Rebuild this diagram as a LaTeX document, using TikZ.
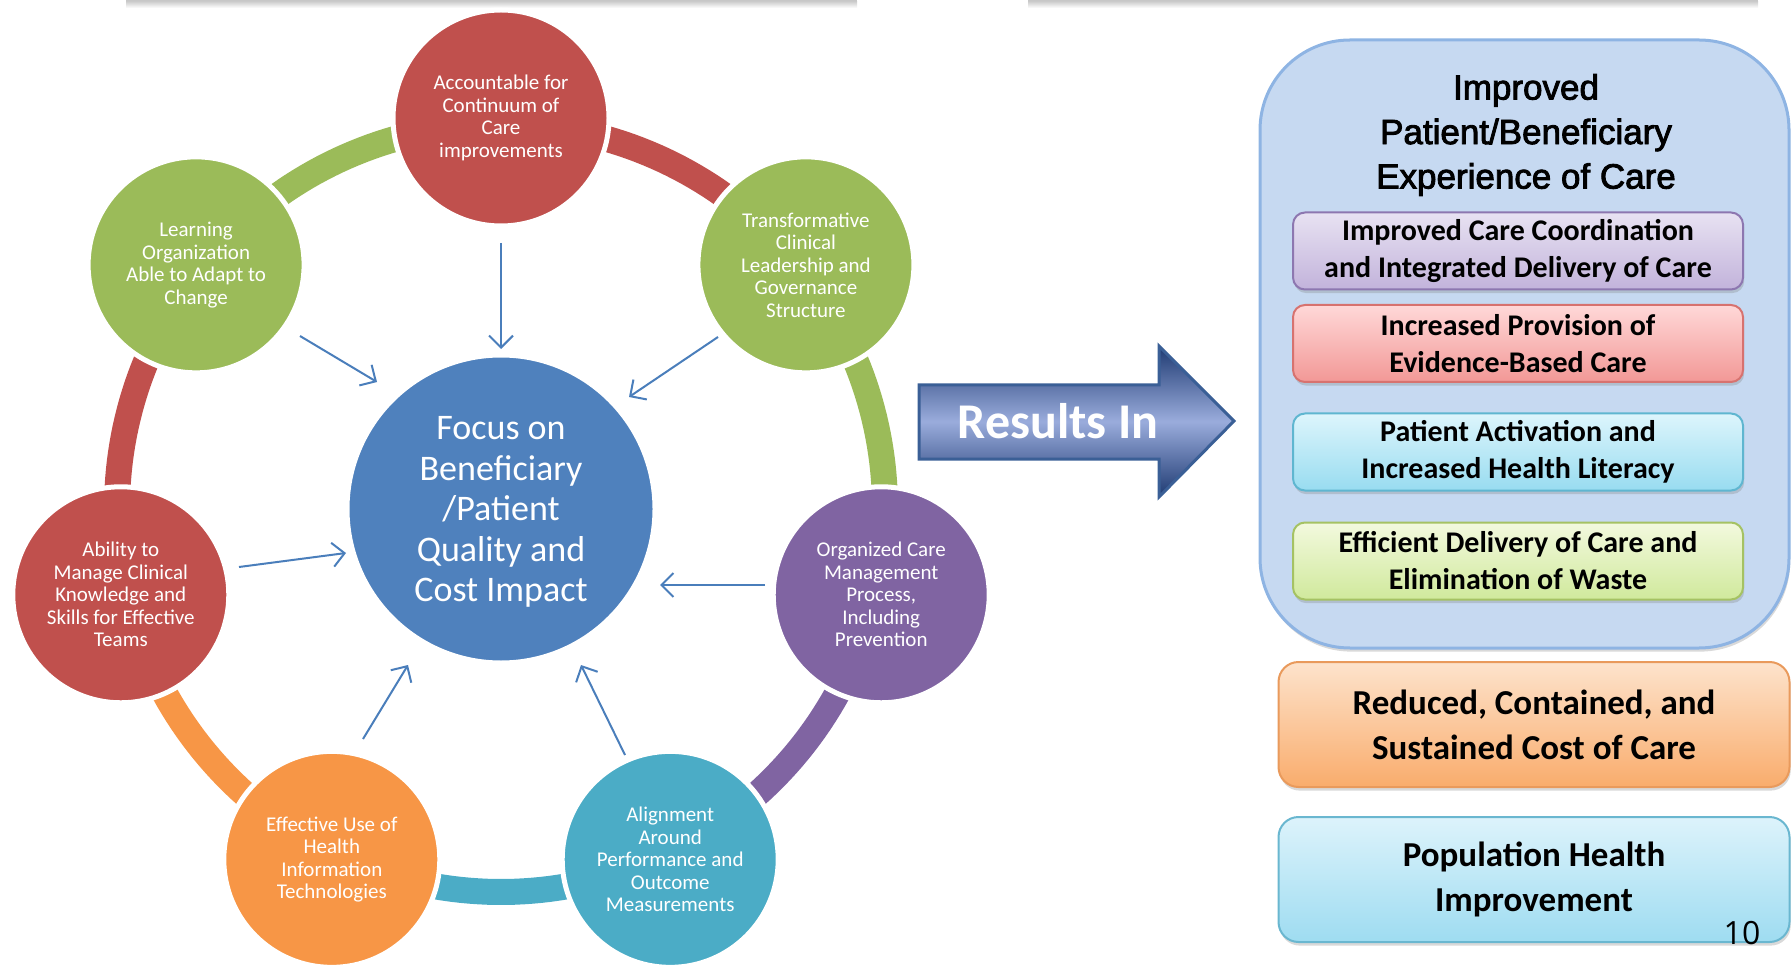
\documentclass[tikz,border=0pt]{standalone}
\usepackage{fontspec}
\setmainfont{Carlito}
\newfontfamily\arialf{Liberation Sans}[FakeBold=2.5]
\newfontfamily\numf{Open Sans}
\usetikzlibrary{arrows.meta,shadows,calc}

\definecolor{cred}{HTML}{C0504D}
\definecolor{cgreen}{HTML}{9BBB59}
\definecolor{cpurple}{HTML}{8064A2}
\definecolor{cteal}{HTML}{4BACC6}
\definecolor{corange}{HTML}{F79646}
\definecolor{cblue}{HTML}{4F81BD}
\definecolor{arrowblue}{HTML}{4A7EBB}
\definecolor{resdark}{HTML}{1E3A72}
\definecolor{reslight}{HTML}{9AACDC}
\definecolor{resborder}{HTML}{3A5F96}
\definecolor{bigfill}{HTML}{C6D9F1}
\definecolor{bigborder}{HTML}{8EB4E3}
\definecolor{puTop}{HTML}{E8E2F2}
\definecolor{puBot}{HTML}{C2B3DB}
\definecolor{puBd}{HTML}{8D77B0}
\definecolor{reTop}{HTML}{FFD8D8}
\definecolor{reBot}{HTML}{F29896}
\definecolor{reBd}{HTML}{D7726F}
\definecolor{cyTop}{HTML}{DDF5FC}
\definecolor{cyBot}{HTML}{98DCF0}
\definecolor{cyBd}{HTML}{5FB6D0}
\definecolor{grTop}{HTML}{F3F9DE}
\definecolor{grBot}{HTML}{D0E99C}
\definecolor{grBd}{HTML}{A5C263}
\definecolor{orTop}{HTML}{FDE3CC}
\definecolor{orBot}{HTML}{F9AC6C}
\definecolor{orBd}{HTML}{E99A5C}
\definecolor{blTop}{HTML}{DDF3FB}
\definecolor{blBot}{HTML}{9EDCF1}
\definecolor{blBd}{HTML}{6AB7D0}

\begin{document}
\begin{tikzpicture}[x=0.5pt,y=-0.5pt,
  smallc/.style={circle, minimum size=108pt, inner sep=0pt, draw=white, line width=2.5pt,
    text=white, align=center, font=\fontsize{10.5}{11.25}\selectfont},
  bigc/.style={circle, minimum size=154pt, inner sep=0pt, draw=white, line width=2.5pt,
    fill=cblue, text=white, align=center, font=\fontsize{18}{20}\selectfont},
  arr/.style={draw=arrowblue, line width=1pt, -{Straight Barb[length=6pt,width=12pt,line width=1pt]}},
  boxshadow/.style={drop shadow={opacity=0.3, shadow xshift=0.6pt, shadow yshift=-1.8pt}},
  ibox/.style={rectangle, rounded corners=6pt, minimum width=225pt, minimum height=38.5pt,
    inner sep=0pt, line width=1pt, align=center, boxshadow,
    font=\bfseries\fontsize{15}{18.5}\selectfont},
  obox/.style={rectangle, rounded corners=10pt, minimum width=255.5pt, minimum height=62.5pt,
    inner sep=0pt, line width=1pt, align=center, boxshadow,
    font=\bfseries\fontsize{17.5}{22.5}\selectfont}
]
\useasboundingbox (0,0) rectangle (1791,967);
\clip (0,0) rectangle (1791,967);

% top grey edges
\fill[black!22] (126,-4) rectangle (857,2);
\shade[top color=black!18, bottom color=white] (126,2) rectangle (857,8);
\fill[black!22] (1028,-4) rectangle (1758,2);
\shade[top color=black!18, bottom color=white] (1028,2) rectangle (1758,8);

% ring
\foreach \k/\c in {0/cred,1/cgreen,2/cpurple,3/cteal,4/corange,5/cred,6/cgreen}{
  \pgfmathsetmacro{\aa}{-90+\k*360/7}
  \pgfmathsetmacro{\bb}{\aa+360/7}
  \draw[\c, line width=13pt] plot[domain=\aa:\bb, samples=40] ({501+384*cos(\x)},{508+384*sin(\x)});
}

% circles
\node[smallc, fill=cred]    (acc) at ({501+390*cos(-90)},{508+390*sin(-90)}) {Accountable for\\Continuum of\\Care\\improvements};
\node[smallc, fill=cgreen]  (tra) at ({501+390*cos(-90+360/7)},{508+390*sin(-90+360/7)}) {Transformative\\Clinical\\Leadership and\\Governance\\Structure};
\node[smallc, fill=cpurple] (org) at ({501+390*cos(-90+2*360/7)},{508+390*sin(-90+2*360/7)}) {Organized Care\\Management\\Process,\\Including\\Prevention};
\node[smallc, fill=cteal]   (ali) at ({501+390*cos(-90+3*360/7)},{508+390*sin(-90+3*360/7)}) {Alignment\\Around\\Performance and\\Outcome\\Measurements};
\node[smallc, fill=corange] (eff) at ({501+390*cos(-90+4*360/7)},{508+390*sin(-90+4*360/7)}) {Effective Use of\\Health\\Information\\Technologies};
\node[smallc, fill=cred]    (abi) at ({501+390*cos(-90+5*360/7)},{508+390*sin(-90+5*360/7)}) {Ability to\\Manage Clinical\\Knowledge and\\Skills for Effective\\Teams};
\node[smallc, fill=cgreen]  (lea) at ({501+390*cos(-90+6*360/7)},{508+390*sin(-90+6*360/7)}) {Learning\\Organization\\Able to Adapt to\\Change};

\node[bigc] (foc) at (501,509) {};
\node[text=white, align=center, font=\fontsize{18}{20.2}\selectfont] (foctext) at (501,512) {Focus on\\Beneficiary\\/Patient\\Quality and\\Cost Impact};

% arrow end points
\coordinate (s1) at (501,243); \coordinate (e1) at (501,349);
\coordinate (s2) at (300,336); \coordinate (e2) at (377,382);
\coordinate (s3) at (718,337); \coordinate (e3) at (629,397);
\coordinate (s4) at (239,567); \coordinate (e4) at (346,553);
\coordinate (s5) at (765,585); \coordinate (e5) at (660,585);
\coordinate (s6) at (363,739); \coordinate (e6) at (408,665);
\coordinate (s7) at (625,755); \coordinate (e7) at (581,665);
\foreach \i in {1,...,7}{\draw[arr] (s\i) -- (e\i);}

% Results In arrow
\draw[draw=resborder, line width=1.5pt, top color=resdark, bottom color=resdark, middle color=reslight]
  (919,385) -- (1159,385) -- (1159,346) -- (1234,421) -- (1159,497) -- (1159,459) -- (919,459) -- cycle;
\node[font=\bfseries\fontsize{25}{30}\selectfont, text=white] (res) at (1058,421) {Results In};

% right big box
\node[draw=bigborder, fill=bigfill, line width=1.5pt, rounded corners=45pt, minimum width=264.5pt,
  minimum height=304pt, boxshadow] (big) at (1524.5,344) {};
\node[font=\arialf\fontsize{17.5}{22.25}\selectfont, align=center] (title) at (1526,135)
  {Improved\\Patient/Beneficiary\\Experience of Care};

\node[ibox, top color=puTop, bottom color=puBot, draw=puBd] (b1) at (1518,251) {Improved Care Coordination\\and Integrated Delivery of Care};
\node[ibox, top color=reTop, bottom color=reBot, draw=reBd] (b2) at (1518,343.5) {Increased Provision of\\Evidence-Based Care};
\node[ibox, top color=cyTop, bottom color=cyBot, draw=cyBd] (b3) at (1518,452) {Patient Activation and\\Increased Health Literacy};
\node[ibox, top color=grTop, bottom color=grBot, draw=grBd] (b4) at (1518,561) {Efficient Delivery of Care and\\Elimination of Waste};

\node[obox, top color=orTop, bottom color=orBot, draw=orBd] (b5) at (1534,724.5) {Reduced, Contained, and\\Sustained Cost of Care};
\node[obox, top color=blTop, bottom color=blBot, draw=blBd] (b6) at (1534,879.5) {Population Health\\Improvement};

\node[font=\numf\fontsize{16}{16}\selectfont] (pg) at (1742,933) {10};
\end{tikzpicture}
\end{document}
